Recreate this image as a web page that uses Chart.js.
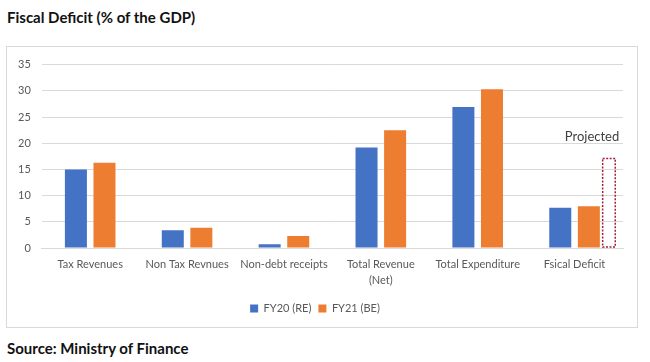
<!DOCTYPE html>
<html>
<head>
<meta charset="utf-8">
<script src="https://cdn.jsdelivr.net/npm/chart.js@4/dist/chart.umd.min.js"></script>
<style>
  html, body { margin: 0; padding: 0; background: #ffffff; }
  body { width: 650px; height: 362px; position: relative; overflow: hidden; font-family: Lato, "Open Sans", sans-serif; }
  #title { position: absolute; left: 7px; top: 8px; font-weight: bold; font-size: 15px; color: #111; white-space: nowrap; }
  #source { position: absolute; left: 7px; top: 339px; font-weight: bold; font-size: 15px; color: #111; white-space: nowrap; }
  #box { position: absolute; left: 6px; top: 46px; width: 630px; height: 280px; border: 1px solid #d9d9d9; }
  #box canvas { display: block; }
</style>
</head>
<body>
<div id="title">Fiscal Deficit (% of the GDP)</div>
<div id="box"><canvas id="c" width="630" height="280"></canvas></div>
<div id="source">Source: Ministry of Finance</div>
<script>
const categories = ["Tax Revenues", "Non Tax Revnues", "Non-debt receipts", ["Total Revenue", "(Net)"], "Total Expenditure", "Fsical Deficit"];
const fy20Values = [15.0, 3.4, 0.75, 19.2, 26.9, 7.7];
const fy21Values = [16.3, 3.9, 2.3, 22.5, 30.3, 8.0];
const seriesNames = ["FY20 (RE)", "FY21 (BE)"];
const yTicksMax = 35;
const yTicksStep = 5;
const projectedCategoryIndex = 5;
const projectedValue = 17.1;
const projectedLabel = "Projected";

const projectedPlugin = {
  id: 'projected',
  afterDatasetsDraw(chart) {
    const x = chart.scales.x, y = chart.scales.y, ctx = chart.ctx;
    const catW = (x.right - x.left) / categories.length;
    const cx = x.getPixelForValue(projectedCategoryIndex);
    const left = cx + catW * 0.29;
    const w = catW * 0.13;
    const top = y.getPixelForValue(projectedValue);
    const bottom = y.getPixelForValue(0);
    ctx.save();
    ctx.strokeStyle = '#A3213B';
    ctx.lineWidth = 1.5;
    ctx.setLineDash([2, 1.5]);
    ctx.strokeRect(left, top, w, bottom - top - 1);
    ctx.setLineDash([]);
    ctx.fillStyle = '#404040';
    ctx.font = '13px Lato, "Open Sans", sans-serif';
    ctx.textAlign = 'right';
    ctx.textBaseline = 'middle';
    ctx.fillText(projectedLabel, left + w + 4, top - 22);
    ctx.restore();
  }
};

new Chart(document.getElementById('c'), {
  type: 'bar',
  data: {
    labels: categories,
    datasets: [
      { label: seriesNames[0], data: fy20Values, backgroundColor: '#4472C4', categoryPercentage: 0.59, barPercentage: 0.77 },
      { label: seriesNames[1], data: fy21Values, backgroundColor: '#ED7D31', categoryPercentage: 0.59, barPercentage: 0.77 }
    ]
  },
  options: {
    responsive: false,
    animation: false,
    devicePixelRatio: 1,
    layout: { padding: { left: 0, right: 14, top: 15, bottom: 3 } },
    plugins: {
      legend: {
        position: 'bottom',
        labels: {
          boxWidth: 8, boxHeight: 8, padding: 7,
          color: '#595959',
          font: { size: 11, family: 'Lato, "Open Sans", sans-serif' }
        }
      },
      tooltip: { enabled: false },
      title: { display: false }
    },
    scales: {
      x: {
        grid: { display: false, drawTicks: false },
        border: { display: true, color: '#d9d9d9' },
        ticks: {
          color: '#595959', padding: 8, maxRotation: 0, autoSkip: false,
          font: { size: 11, family: 'Lato, "Open Sans", sans-serif', lineHeight: 1.45 }
        }
      },
      y: {
        min: 0, max: yTicksMax,
        grid: { color: '#d9d9d9', drawTicks: false },
        border: { display: false },
        ticks: {
          stepSize: yTicksStep, padding: 11, color: '#595959',
          font: { size: 11, family: 'Lato, "Open Sans", sans-serif' }
        }
      }
    }
  },
  plugins: [projectedPlugin]
});
</script>
</body>
</html>
